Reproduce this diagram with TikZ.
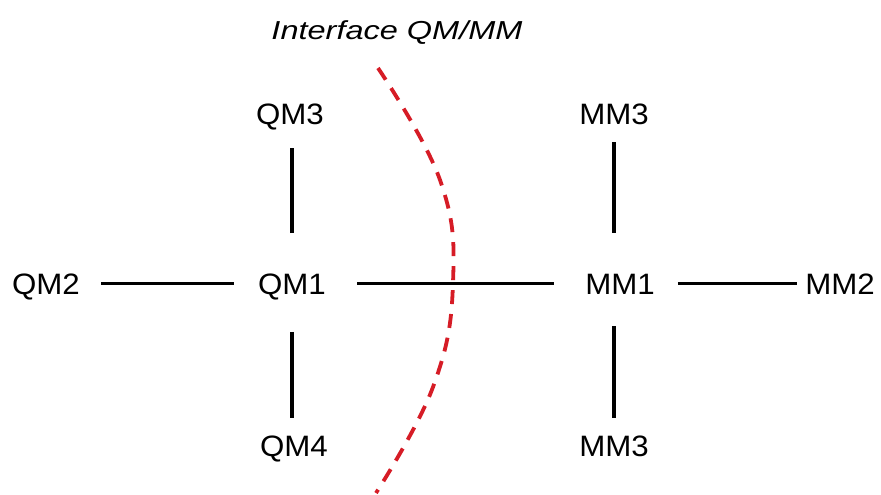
\documentclass[tikz,border=0pt]{standalone}
\usepackage{fontspec}
\setmainfont{Liberation Sans}
\definecolor{dashred}{RGB}{214,28,38}
\begin{document}
\begin{tikzpicture}[x=1pt,y=-1pt,
  lbl/.style={anchor=base,inner sep=0pt,font=\fontsize{29.5}{32}\selectfont},
  ttl/.style={anchor=base,inner sep=0pt,font=\fontsize{26}{30}\selectfont\itshape},
  bond/.style={line width=3.3pt,black},
  iface/.style={draw=dashred,line width=3.8pt,dash pattern=on 14pt off 10pt}]
\useasboundingbox (0,0) rectangle (881,495);
\node[ttl] (title) at (397,40) {\scalebox{1.25}[1]{Interface QM/MM}};
\node[lbl] (QM3) at (290,124) {\scalebox{1.06}[1]{QM3}};
\node[lbl] (QM1) at (292,294) {\scalebox{1.06}[1]{QM1}};
\node[lbl] (QM2) at (46,294) {\scalebox{1.06}[1]{QM2}};
\node[lbl] (QM4) at (294,456) {\scalebox{1.06}[1]{QM4}};
\node[lbl] (MM3) at (614,124) {\scalebox{1.06}[1]{MM3}};
\node[lbl] (MM1) at (620,294) {\scalebox{1.06}[1]{MM1}};
\node[lbl] (MM2) at (840,294) {\scalebox{1.06}[1]{MM2}};
\node[lbl] (MM4) at (614,456) {\scalebox{1.06}[1]{MM3}};
% bonds
\draw[bond,shorten <=21pt,shorten >=24pt] ([yshift=3pt]QM1.west -| QM2.east) -- ([yshift=3pt]QM1.west);
\draw[bond,shorten <=31pt,shorten >=31pt] ([yshift=3pt]QM1.east) -- ([yshift=3pt]QM1.east -| MM1.west);
\draw[bond,shorten <=23pt,shorten >=8pt] ([yshift=3pt]QM1.east -| MM1.east) -- ([yshift=3pt]QM1.east -| MM2.west);
\draw[bond,shorten <=40pt,shorten >=18pt] (QM1.north) -- (QM1.north |- QM3.south);
\draw[bond,shorten <=32pt,shorten >=17pt] (QM1.south) -- (QM1.south |- QM4.north);
\draw[bond,shorten <=41pt,shorten >=18pt] (MM3.south |- MM1.north) -- (MM3.south);
\draw[bond,shorten <=32pt,shorten >=17pt] (MM3.south |- MM1.south) -- (MM3.south |- MM4.north);
% interface
\draw[iface] plot[smooth,tension=0.7] coordinates {(378,68) (440,180) (453,283) (433,387) (376,493)};
\end{tikzpicture}
\end{document}
